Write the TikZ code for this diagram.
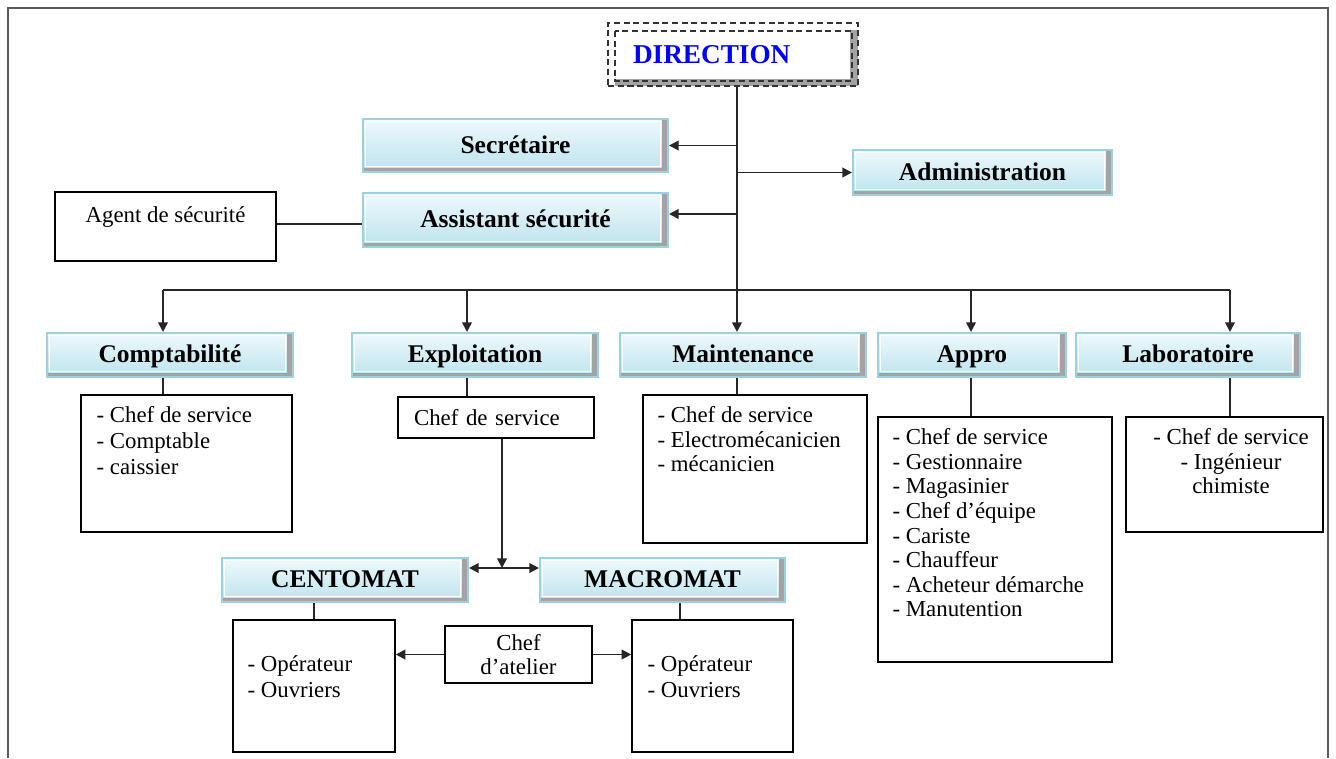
\documentclass[tikz,border=0pt]{standalone}
\usepackage{fontspec}
\setmainfont{Liberation Serif}
\usetikzlibrary{arrows.meta}
\definecolor{deptline}{HTML}{9CD2DF}
\definecolor{depttop}{HTML}{EEF9FB}
\definecolor{deptbottom}{HTML}{BCE3EE}
\definecolor{deptshade}{HTML}{A3A3A3}
\definecolor{framegray}{HTML}{5A5A5A}

\begin{document}
\begin{tikzpicture}[x = 0.02cm, y = -0.02cm, font = \fontsize{13}{14}\selectfont,
    > = {Triangle[length = 5.5pt, width = 5.5pt]},
    link/.style = {draw = black!85, line width = 1.1pt},
    plain/.style = {draw = black, line width = 0.9pt, fill = white, inner sep = 0pt},
    topleft/.style = {anchor = north west, align = left, inner sep = 0pt},
    topmid/.style = {anchor = north, align = center, inner sep = 0pt},
    dept/.style = {draw = deptline, line width = 1.2pt, top color = depttop, bottom color = deptbottom,
        inner sep = 0pt, minimum height = 0.88cm, text height = 11pt, text depth = 2pt,
        font = \fontsize{14.5}{16}\selectfont\bfseries,
        path picture = {
            \fill[deptshade] ([xshift = -3.5pt]path picture bounding box.north east) rectangle (path picture bounding box.south east);
            \fill[deptshade] ([yshift = 2.5pt]path picture bounding box.south west) rectangle (path picture bounding box.south east);
            \draw[white, line width = 0.7pt] ([shift = {(1.6pt,-1.6pt)}]path picture bounding box.north west)
                rectangle ([shift = {(-4.2pt,3.2pt)}]path picture bounding box.south east);
        }},
    dirbox/.style = {draw = black!80, dash pattern = on 3.5pt off 2pt, line width = 0.9pt, fill = white,
        minimum height = 1.26cm, inner xsep = 0.5cm, text width = 4cm, align = left, text = blue,
        font = \fontsize{15.5}{17}\selectfont\bfseries,
        path picture = {
            \fill[deptshade] ([shift = {(-0.16cm,-0.14cm)}]path picture bounding box.north east) rectangle (path picture bounding box.south east);
            \fill[deptshade] ([shift = {(0.14cm,0.13cm)}]path picture bounding box.south west) rectangle (path picture bounding box.south east);
            \draw[black!80, dash pattern = on 3.5pt off 2pt, line width = 0.9pt] ([shift = {(0.14cm,-0.16cm)}]path picture bounding box.north west)
                rectangle ([shift = {(-0.12cm,0.1cm)}]path picture bounding box.south east);
        }}]
    \useasboundingbox (0,0) rectangle (1336,758);
    \draw[framegray, line width = 1.1pt] (8,758) -- (8,8) -- (1328,8) -- (1328,758);

    \node[dirbox] (direction) at (733,54.5) {DIRECTION};
    \node[dept, minimum width = 6.1cm, minimum height = 1.06cm] (secretaire) at (515.5,145.5) {Secrétaire};
    \node[dept, minimum width = 6.1cm, minimum height = 1.08cm] (assistant) at (515.5,220) {Assistant sécurité};
    \node[dept, minimum width = 5.18cm, minimum height = 0.9cm] (admin) at (982.5,172.5) {Administration};
    \node[plain, minimum width = 4.42cm, minimum height = 1.38cm,
        label = {[topmid, yshift = -0.3cm]north:Agent de sécurité}] (agent) at (165.5,226.5) {};

    \node[dept, minimum width = 4.92cm] (compta) at (170,355) {Comptabilité};
    \node[dept, minimum width = 4.92cm] (exploit) at (475,355) {Exploitation};
    \node[dept, minimum width = 4.92cm] (mainten) at (743,355) {Maintenance};
    \node[dept, minimum width = 3.76cm] (appro) at (972,355) {Appro};
    \node[dept, minimum width = 4.48cm] (labo) at (1188,355) {Laboratoire};

    \node[plain, minimum width = 4.22cm, minimum height = 2.74cm,
        label = {[topleft, shift = {(0.32cm,-0.24cm)}, font = \fontsize{13}{14.8}\selectfont]north west:{- Chef de service\\- Comptable\\- caissier}}] (comptalist) at (186.5,463.5) {};
    \node[plain, text width = 3.28cm, inner xsep = 0.32cm, minimum height = 0.82cm, align = left] (exchef) at (496,417.5) {Chef de service};
    \node[plain, minimum width = 4.48cm, minimum height = 2.96cm,
        label = {[topleft, shift = {(0.3cm,-0.24cm)}]north west:{- Chef de service\\- Electromécanicien\\- mécanicien}}] (maintlist) at (755,469) {};
    \node[plain, minimum width = 4.68cm, minimum height = 4.9cm,
        label = {[topleft, shift = {(0.3cm,-0.24cm)}]north west:{- Chef de service\\- Gestionnaire\\- Magasinier\\- Chef d’équipe\\- Cariste\\- Chauffeur\\- Acheteur démarche\\- Manutention}}] (approlist) at (995,539.5) {};
    \node[plain, minimum width = 3.94cm, minimum height = 2.3cm,
        label = {[topmid, shift = {(0.13cm,-0.24cm)}]north:{- Chef de service\\- Ingénieur\\chimiste}}] (labolist) at (1224.5,474.5) {};

    \node[dept, minimum width = 4.92cm] (centomat) at (345,580) {CENTOMAT};
    \node[dept, minimum width = 4.9cm] (macromat) at (662.5,580) {MACROMAT};
    \node[plain, minimum width = 3.24cm, minimum height = 2.64cm,
        label = {[topleft, shift = {(0.3cm,-0.72cm)}, font = \fontsize{13}{14.8}\selectfont]north west:{- Opérateur\\- Ouvriers}}] (centlist) at (314,686) {};
    \node[plain, minimum width = 3.22cm, minimum height = 2.64cm,
        label = {[topleft, shift = {(0.32cm,-0.72cm)}, font = \fontsize{13}{14.8}\selectfont]north west:{- Opérateur\\- Ouvriers}}] (macrlist) at (712.5,686) {};
    \node[plain, minimum width = 2.94cm, minimum height = 1.14cm, align = center] (atelier) at (518.5,654.5) {Chef\\d’atelier};

    \coordinate (bcpt) at (163,290);
    \coordinate (bexp) at (467,290);
    \coordinate (trunk) at (737,290);
    \coordinate (bapp) at (971,290);
    \coordinate (blab) at (1230,290);
    \coordinate (split) at (502,568);

    \draw[link] (direction.south -| trunk) -- (trunk);
    \draw[link, ->] (trunk |- secretaire.east) -- (secretaire.east);
    \draw[link, ->] (trunk |- admin.west) -- (admin.west);
    \draw[link, ->] ([yshift = 0.12cm]trunk |- assistant.east) -- ([yshift = 0.12cm]assistant.east);
    \draw[link] ([yshift = 0.05cm]agent.east) -- ([yshift = 0.05cm]agent.east -| assistant.west);
    \draw[link] (bcpt) -- (blab);
    \foreach \b/\d/\l in {bcpt/compta/comptalist, bexp/exploit/exchef, trunk/mainten/maintlist, bapp/appro/approlist, blab/labo/labolist}{
        \draw[link, ->] (\b) -- (\b |- \d.north);
        \draw[link] (\b |- \d.south) -- (\b |- \l.north);
    }
    \draw[link, ->] (split |- exchef.south) -- (split);
    \draw[link, <->] (centomat.east |- split) -- (macromat.west |- split);
    \draw[link] (centlist.north |- centomat.south) -- (centlist.north);
    \draw[link] ([xshift = 0.35cm]macromat.south) -- ([xshift = 0.35cm]macromat.south |- macrlist.north);
    \draw[link, ->] (atelier.west) -- (atelier.west -| centlist.east);
    \draw[link, ->] (atelier.east) -- (atelier.east -| macrlist.west);
\end{tikzpicture}
\end{document}
